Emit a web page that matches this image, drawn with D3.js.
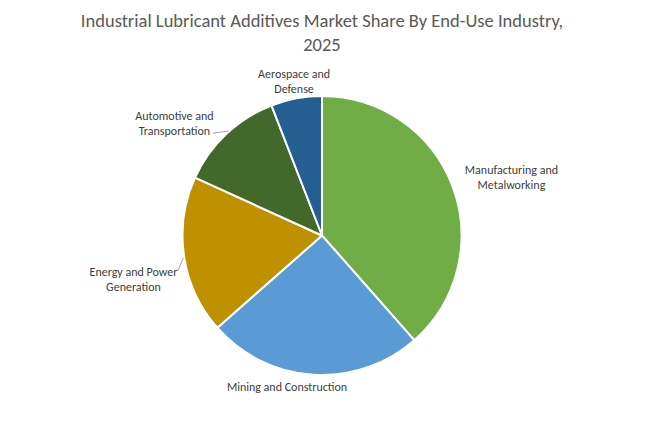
<!DOCTYPE html>
<html>
<head>
<meta charset="utf-8">
<script src="https://cdn.jsdelivr.net/npm/d3@7/dist/d3.min.js"></script>
<style>
  html, body { margin: 0; padding: 0; background: #fff; }
  svg { display: block; }
  text { font-family: Carlito, Lato, "Open Sans", sans-serif; }
</style>
</head>
<body>
<svg id="chart" width="645" height="422"></svg>
<script>
// ---- data ----
const categories = [
  "Manufacturing and Metalworking",
  "Mining and Construction",
  "Energy and Power Generation",
  "Automotive and Transportation",
  "Aerospace and Defense"
];
const shares = [38.5, 25.0, 18.3, 12.3, 5.9];
const labelLines = [
  ["Manufacturing and", "Metalworking"],
  ["Mining and Construction"],
  ["Energy and Power", "Generation"],
  ["Automotive and", "Transportation"],
  ["Aerospace and", "Defense"]
];
const titleLines = ["Industrial Lubricant Additives Market Share By End-Use Industry,", "2025"];

// ---- style / layout ----
const colors = ["#70AD47", "#5B9BD5", "#BF9000", "#43682B", "#255E91"];
// label placement: radius and angle (degrees clockwise from top) of label centre
const labelLayout = [
  {r: 198, a: 73.1},
  {r: 155.5, a: 193},
  {r: 193.5, a: 257},
  {r: 185.5, a: 307.3},
  {r: 156.5, a: 349.7}
];
// leader lines as polar points [r, angle]
const leaders = [
  null, null,
  [[148.6, 256.2], [140.5, 260.8]],
  [[149.6, 313.2], [143.5, 316.2], [140, 318.3]],
  null
];

const cx = 322, cy = 235.5, R = 139.5;
const svg = d3.select("#chart");

svg.append("g").selectAll("text").data(titleLines).join("text")
  .attr("x", 322).attr("y", (d, i) => 27 + i * 24)
  .attr("text-anchor", "middle")
  .attr("font-size", 18.5)
  .attr("fill", "#595959")
  .text(d => d);

const pie = d3.pie().sort(null).value(d => d);
const arcs = pie(shares);
const arc = d3.arc().innerRadius(0).outerRadius(R);

const g = svg.append("g").attr("transform", `translate(${cx},${cy})`);
g.selectAll("path").data(arcs).join("path")
  .attr("d", arc)
  .attr("fill", (d, i) => colors[i])
  .attr("stroke", "#fff")
  .attr("stroke-width", 2)
  .attr("stroke-linejoin", "round");

const pt = (r, a) => [r * Math.sin(a * Math.PI / 180), -r * Math.cos(a * Math.PI / 180)];

const line = d3.line().curve(d3.curveLinear);
leaders.forEach((l) => {
  if (!l) return;
  g.append("path")
    .attr("d", line(l.map(p => pt(p[0], p[1]))))
    .attr("fill", "none")
    .attr("stroke", "#a6a6a6").attr("stroke-width", 1);
});

const lg = g.append("g");
labelLines.forEach((lines, i) => {
  const p = pt(labelLayout[i].r, labelLayout[i].a);
  const n = lines.length;
  const t = lg.append("text")
    .attr("text-anchor", "middle")
    .attr("font-size", 12)
    .attr("fill", "#404040");
  lines.forEach((ln, j) => {
    t.append("tspan")
      .attr("x", p[0])
      .attr("y", p[1] + (j - (n - 1) / 2) * 15 + 4)
      .text(ln);
  });
});
</script>
</body>
</html>
